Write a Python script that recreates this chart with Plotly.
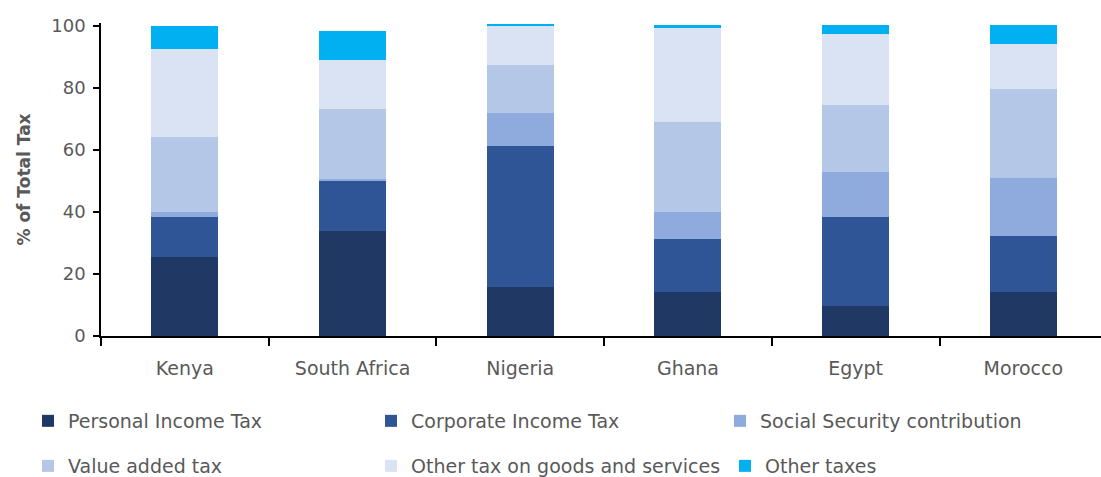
import plotly.graph_objects as go

countries = ["Kenya", "South Africa", "Nigeria", "Ghana", "Egypt", "Morocco"]
personal_income = [25.4, 33.9, 15.9, 14.3, 9.8, 14.1]
corporate_income = [12.9, 16.2, 45.5, 17.0, 28.5, 18.2]
social_security = [1.7, 0.5, 10.4, 8.6, 14.5, 18.8]
value_added = [24.3, 22.8, 15.8, 29.2, 21.7, 28.5]
other_goods = [28.2, 15.6, 12.5, 30.4, 23.1, 14.5]
other_taxes = [7.5, 9.5, 0.4, 0.7, 2.9, 6.4]

series_names = ["Personal Income Tax", "Corporate Income Tax",
                "Social Security contribution", "Value added tax",
                "Other tax on goods and services", "Other taxes"]
series_values = [personal_income, corporate_income, social_security,
                 value_added, other_goods, other_taxes]
series_colors = ["#203864", "#2F5597", "#8FAADC", "#B4C7E7", "#DAE3F3", "#00B0F0"]

# legend placement (pixels in the 1101x477 page): left x, row centre y
legend_pos = [(28, 421), (371, 421), (720, 421), (28, 466), (371, 466), (725, 466)]

FONT = "DejaVu Sans"
GRAY = "#595959"
W, H = 1101, 477

fig = go.Figure()
layout_legends = {}
for i, (name, vals, color) in enumerate(zip(series_names, series_values, series_colors)):
    lg = "legend" if i == 0 else f"legend{i + 1}"
    fig.add_trace(go.Bar(name=name, x=countries, y=vals, marker_color=color,
                         marker_line_width=0, legend=lg, showlegend=True))
    lx, ly = legend_pos[i]
    layout_legends[lg] = dict(orientation="h", xref="container", yref="container",
                              xanchor="left", yanchor="middle",
                              x=lx / W, y=1 - ly / H,
                              font=dict(family=FONT, size=19, color=GRAY),
                              bgcolor="rgba(0,0,0,0)")

fig.update_layout(
    width=W, height=H, showlegend=True,
    margin=dict(l=101, r=0, t=23, b=141, autoexpand=False),
    barmode="stack", bargap=0.6,
    plot_bgcolor="white", paper_bgcolor="white",
    font=dict(family=FONT, size=19, color=GRAY),
    xaxis=dict(range=[-0.5, 5.463],
               showline=True, linecolor="black", linewidth=1.5,
               ticks="outside", tickson="boundaries", ticklen=8,
               tickcolor="black", tickwidth=1.5, ticklabelstandoff=14,
               tickfont=dict(family=FONT, size=19, color=GRAY),
               showgrid=False, automargin=False),
    yaxis=dict(range=[0, 101], tickvals=[0, 20, 40, 60, 80, 100],
               showline=True, linecolor="black", linewidth=1.5,
               ticks="outside", ticklen=6, tickcolor="black", tickwidth=1.5,
               ticklabelstandoff=4,
               tickfont=dict(family=FONT, size=18, color=GRAY),
               showgrid=False, zeroline=False, automargin=False,
               title=dict(text="<b>% of Total Tax</b>",
                          font=dict(family=FONT, size=17, color=GRAY),
                          standoff=16)),
    **layout_legends,
)

fig.write_html("out.html", config={"displayModeBar": False},
               post_script="document.body.style.margin='0';document.body.style.padding='0';")
